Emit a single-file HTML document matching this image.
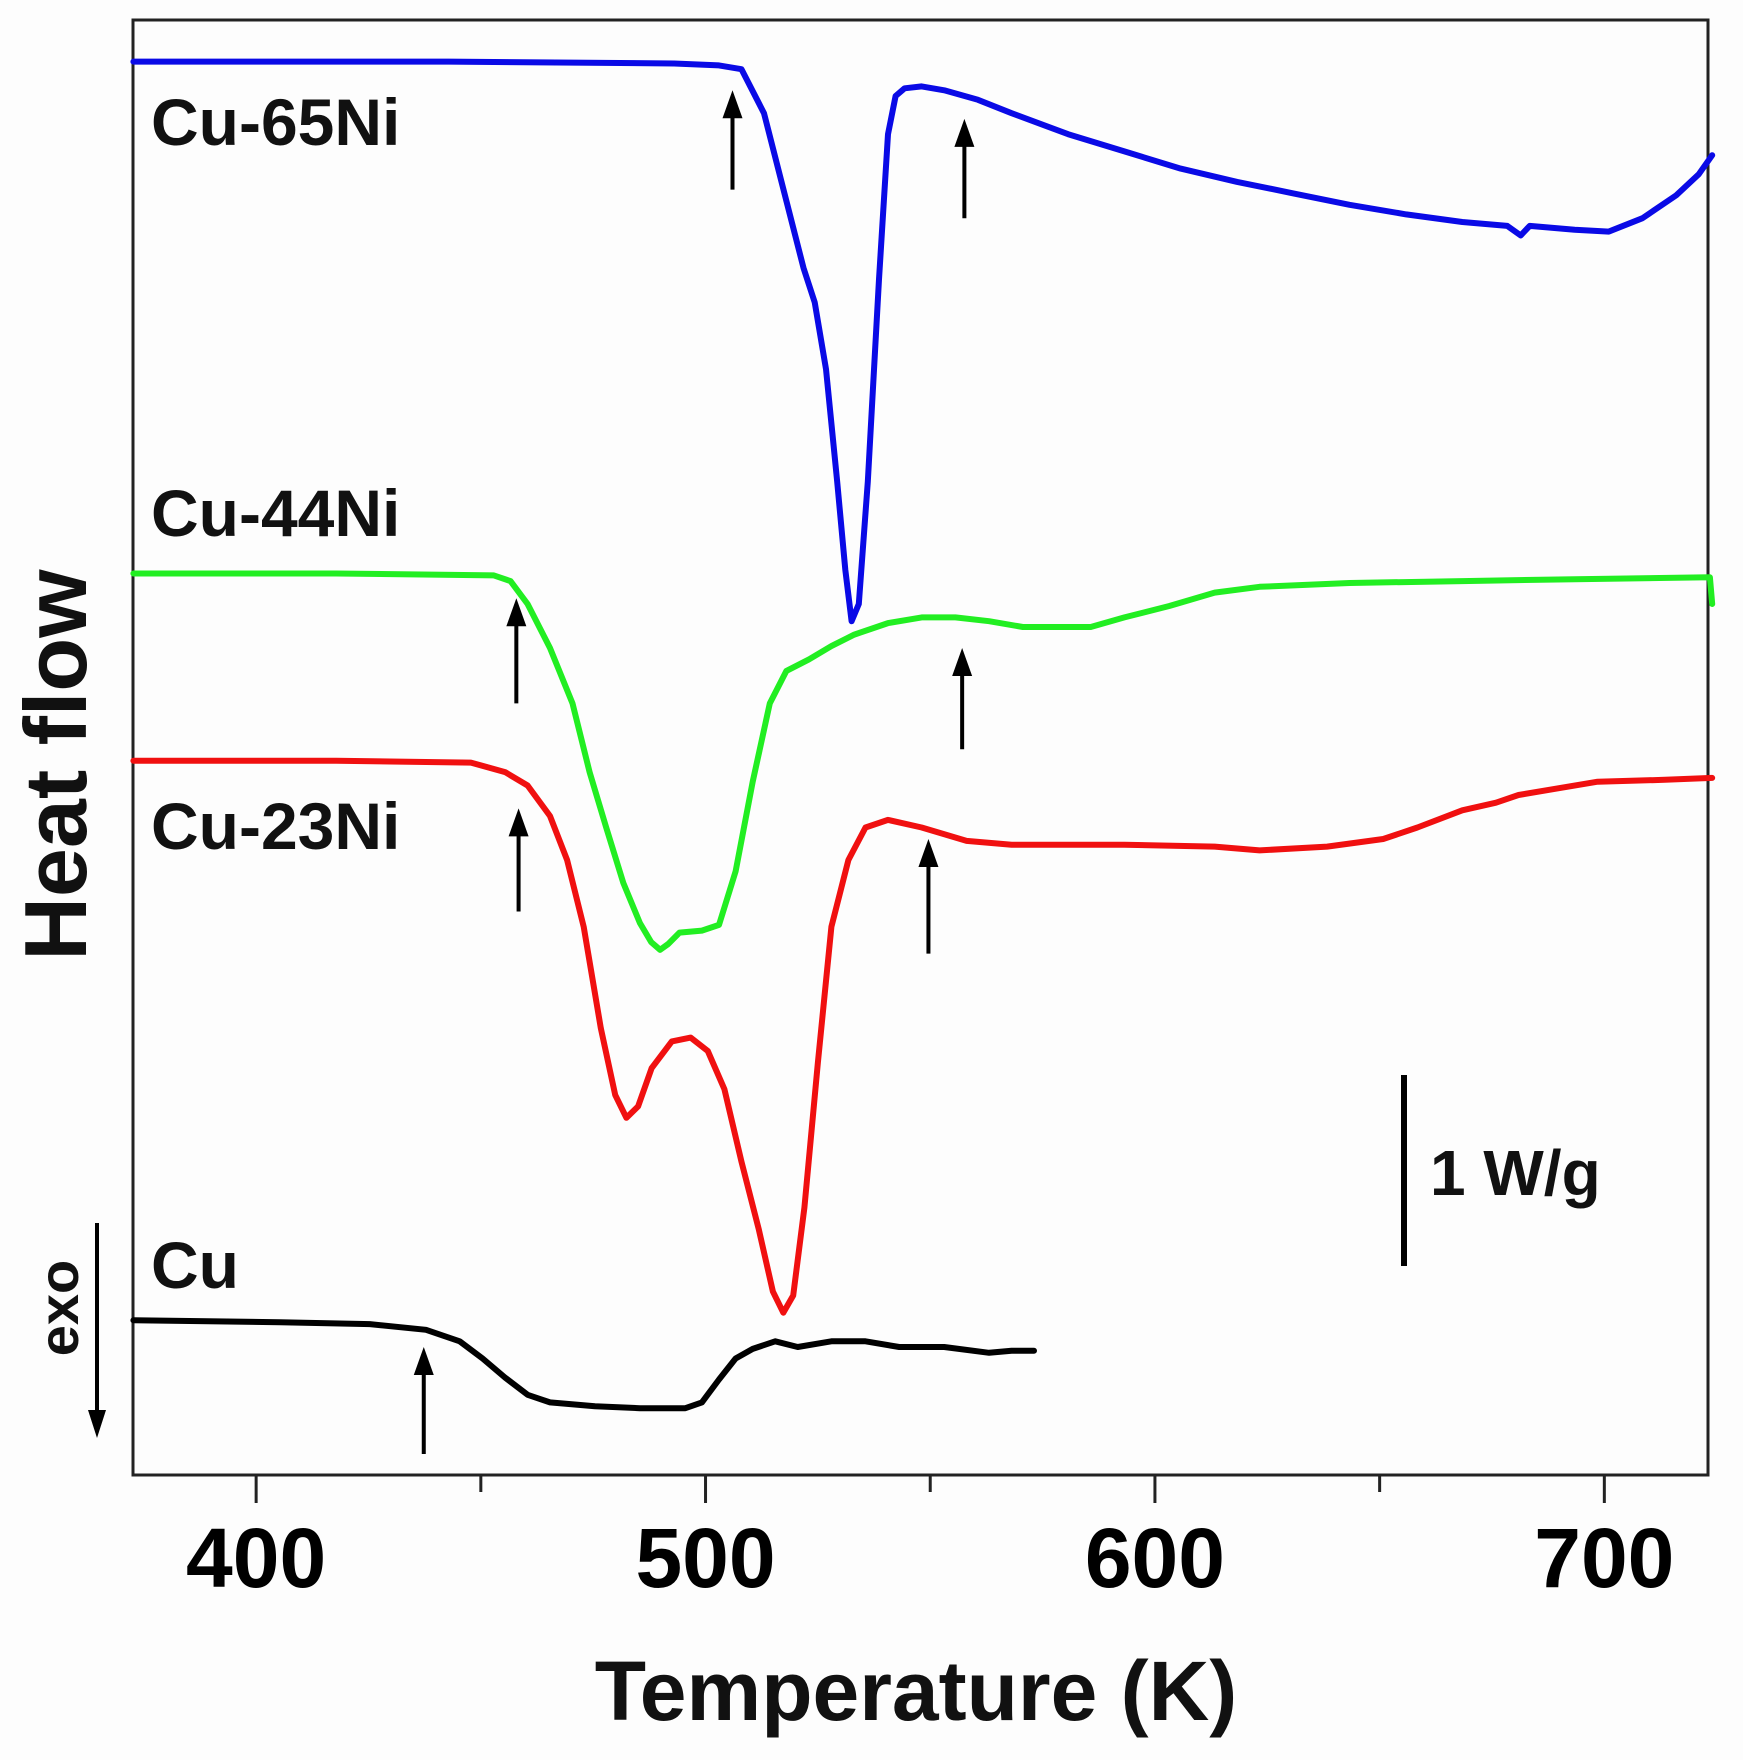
<!DOCTYPE html>
<html><head><meta charset="utf-8"><style>
html,body{margin:0;padding:0;background:#fdfdfd;}
svg{display:block;font-family:"Liberation Sans",Arial,sans-serif;font-weight:bold;}
</style></head><body>
<svg id="chart" width="1743" height="1760" viewBox="0 0 1743 1760" xmlns="http://www.w3.org/2000/svg">
<rect x="0" y="0" width="1743" height="1760" fill="#fdfdfd"/>
<g id="plot"></g>
</svg>
<script>
const xTicks=[400,500,600,700];
const xMinorTicks=[450,550,650];
const cu65T=[372.7,442.8,493.0,503.0,508.0,513.0,518.0,521.8,524.3,526.8,529.3,531.1,532.5,534.1,536.1,538.6,540.6,542.3,544.3,548.1,553.1,560.6,568.1,580.7,593.2,605.7,618.3,630.8,643.3,655.9,668.4,678.4,681.4,683.4,693.4,701.0,708.5,716.0,721.0,724.0];
const cu65V=[7.40,7.40,7.39,7.38,7.36,7.13,6.67,6.32,6.14,5.79,5.20,4.74,4.47,4.56,5.20,6.26,7.02,7.22,7.26,7.27,7.25,7.20,7.13,7.02,6.93,6.84,6.77,6.71,6.65,6.60,6.56,6.54,6.49,6.54,6.52,6.51,6.58,6.70,6.81,6.91];
const cu44T=[372.7,417.8,452.9,456.6,460.4,465.4,470.4,474.2,477.9,481.7,485.4,487.9,489.9,491.7,494.2,499.2,503.0,506.7,510.5,514.3,518.0,523.0,528.0,533.1,540.6,548.1,555.6,563.1,570.6,578.2,585.7,593.2,603.2,613.3,623.3,643.3,668.4,693.4,723.5,724.0];
const cu44V=[4.72,4.72,4.71,4.68,4.56,4.33,4.04,3.68,3.39,3.10,2.89,2.79,2.75,2.78,2.84,2.85,2.88,3.16,3.63,4.04,4.21,4.27,4.34,4.40,4.46,4.49,4.49,4.47,4.44,4.44,4.44,4.49,4.55,4.62,4.65,4.67,4.68,4.69,4.70,4.56];
const cu23T=[372.7,417.8,447.8,455.4,460.4,465.4,469.2,472.9,476.7,479.9,482.4,485.0,488.0,492.5,496.7,500.5,504.2,508.0,511.8,515.0,517.3,519.5,522.0,525.0,528.0,531.8,535.6,540.6,548.1,558.1,568.1,593.2,613.3,623.3,638.3,650.8,658.4,668.4,675.9,680.9,688.4,698.5,713.5,724.0];
const cu23V=[3.74,3.74,3.73,3.68,3.61,3.45,3.22,2.87,2.34,1.99,1.87,1.93,2.13,2.27,2.29,2.22,2.02,1.64,1.29,0.96,0.85,0.94,1.40,2.16,2.87,3.22,3.39,3.43,3.39,3.32,3.30,3.30,3.29,3.27,3.29,3.33,3.39,3.48,3.52,3.56,3.59,3.63,3.64,3.65];
const cuT=[372.7,405.3,425.3,437.8,445.3,450.4,455.4,460.4,465.4,475.4,485.4,495.5,499.2,503.0,506.7,510.5,515.5,520.5,528.0,535.6,543.1,553.1,563.1,568.1,573.1];
const cuV=[0.81,0.80,0.79,0.76,0.70,0.61,0.51,0.42,0.38,0.36,0.35,0.35,0.38,0.50,0.61,0.66,0.70,0.67,0.70,0.70,0.67,0.67,0.64,0.65,0.65];
const arrowT=[506.0,557.6,457.9,557.1,458.4,549.6,437.3];
const arrowTip=[7.25,7.10,4.59,4.33,3.49,3.33,0.67];
const arrowBase=[6.73,6.58,4.04,3.80,2.95,2.73,0.11];

const L=133,R=1708,T0=20,B=1475;
function xs(t){return L+(t-372.6)*4.494;}
function ys(v){return B-v*191;}
const NS="http://www.w3.org/2000/svg";
const g=document.getElementById('plot');
function mk(tag,attrs){const e=document.createElementNS(NS,tag);for(const k in attrs)e.setAttribute(k,attrs[k]);g.appendChild(e);return e;}

const frame=mk('rect',{x:L,y:T0,width:R-L,height:B-T0,fill:'none',stroke:'#222','stroke-width':3});


xTicks.forEach(t=>{
  const l=mk('line',{x1:xs(t),x2:xs(t),y1:B,y2:B+28,stroke:'#222','stroke-width':3});
  
  
  const tx=mk('text',{x:xs(t),y:1587,'font-size':84,'text-anchor':'middle',fill:'#000'});
  tx.textContent=t;
  
  
});
xMinorTicks.forEach(t=>{
  const l=mk('line',{x1:xs(t),x2:xs(t),y1:B,y2:B+17,stroke:'#222','stroke-width':3});
  
  
});
function series(tArr,vArr,color,name){
  let d='';
  tArr.forEach((t,i)=>{d+=(i?'L':'M')+xs(t).toFixed(1)+' '+ys(vArr[i]).toFixed(1);});
  const p=mk('path',{d:d,fill:'none',stroke:color,'stroke-width':6,'stroke-linejoin':'round','stroke-linecap':'round'});
  
  
}
series(cu65T,cu65V,'#0a0ae6','series-cu-65ni');
series(cu44T,cu44V,'#22ee22','series-cu-44ni');
series(cu23T,cu23V,'#f01010','series-cu-23ni');
series(cuT,cuV,'#000000','series-cu');
arrowT.forEach((t,i)=>{
  const x=xs(t),y1=ys(arrowTip[i]),y2=ys(arrowBase[i]);
  const l=mk('line',{x1:x,x2:x,y1:y1+20,y2:y2,stroke:'#000','stroke-width':4});
  
  
  const h=mk('polygon',{points:`${x},${y1} ${x-10},${y1+28} ${x+10},${y1+28}`,fill:'#000'});
  
  
});
</script>
<svg style="position:absolute;left:0;top:0" width="1743" height="1760">
<g font-family="Liberation Sans, Arial, sans-serif" font-weight="bold" fill="#111">
<text x="151" y="145" font-size="66">Cu-65Ni</text>
<text x="151" y="536" font-size="66">Cu-44Ni</text>
<text x="151" y="849" font-size="66">Cu-23Ni</text>
<text x="151" y="1288" font-size="66">Cu</text>
<line x1="1404" y1="1075" x2="1404" y2="1266" stroke="#000" stroke-width="6"/>
<text x="1430" y="1195" font-size="64">1 W/g</text>
<text transform="translate(86,765) rotate(-90)" text-anchor="middle" font-size="88">Heat flow</text>
<text transform="translate(78,1308) rotate(-90)" text-anchor="middle" font-size="56">exo</text>
<line x1="97" y1="1223" x2="97" y2="1410" stroke="#000" stroke-width="4"/>
<polygon points="97,1438 88,1410 106,1410" fill="#000"/>
<text x="916" y="1720" text-anchor="middle" font-size="84">Temperature (K)</text>
</g>
</svg>
</body></html>
